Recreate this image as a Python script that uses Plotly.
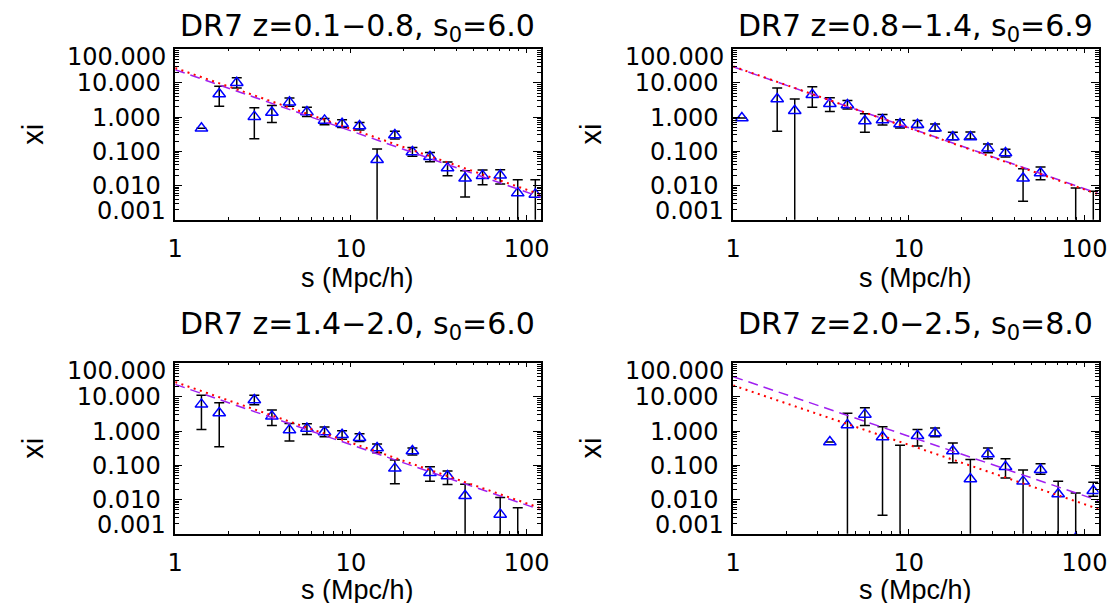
import plotly.graph_objects as go

# ---------------------------------------------------------------------------
# Data (s in Mpc/h, xi dimensionless)
# hi / lo = ends of the error bar; None = no error bar, 0 = bar runs off the bottom
# ---------------------------------------------------------------------------

s_p1 = [1.41, 1.78, 2.24, 2.82, 3.55, 4.47, 5.62, 7.08, 8.91, 11.2,
        14.1, 17.8, 22.4, 28.2, 35.5, 44.7, 56.2, 70.8, 89.1, 112.2]
xi_p1 = [0.469, 4.72, 10.1, 1.03, 1.37, 2.70, 1.41, 0.80, 0.64, 0.55,
         0.0568, 0.299, 0.0953, 0.0695, 0.0324, 0.0162, 0.0194, 0.0198, 0.0060, 0.0055]
hi_p1 = [None, 7.92, 14.2, 1.88, 2.20, 3.61, 1.93, 0.91, 0.84, 0.70,
         0.116, 0.383, 0.130, 0.093, 0.0485, 0.0271, 0.0283, 0.029, 0.0148, 0.0148]
lo_p1 = [None, 2.06, 7.08, 0.233, 0.70, 2.06, 1.05, 0.60, 0.50, 0.42,
         0, 0.229, 0.0711, 0.0497, 0.0194, 0.0046, 0.0105, 0.011, 0, 0]

s_p2 = [1.12, 1.78, 2.24, 2.82, 3.55, 4.47, 5.62, 7.08, 8.91, 11.2,
        14.1, 17.8, 22.4, 28.2, 35.5, 44.7, 56.2, 89.1, 112.2]
xi_p2 = [0.94, 3.38, 1.54, 4.52, 2.47, 2.25, 0.77, 0.82, 0.627, 0.60,
         0.469, 0.261, 0.261, 0.122, 0.089, 0.0162, 0.0232, 0.0004, 0.0004]
hi_p2 = [None, 7.08, 3.38, 7.74, 3.69, 3.08, 1.26, 1.20, 0.84, 0.80,
         0.627, 0.358, 0.366, 0.163, 0.114, 0.031, 0.0347, 0.0085, 0.0068]
lo_p2 = [None, 0.383, 0, 1.93, 1.47, 1.72, 0.358, 0.586, 0.479, 0.50,
         0.383, 0.218, 0.229, 0.091, 0.068, 0.00344, 0.0148, 0, 0]

s_p3 = [1.41, 1.78, 2.82, 3.55, 4.47, 5.62, 7.08, 8.91, 11.2, 14.1,
        17.8, 22.4, 28.2, 35.5, 44.7, 70.8, 89.1]
xi_p3 = [6.05, 3.37, 8.10, 2.70, 1.07, 1.20, 0.94, 0.786, 0.641, 0.32,
         0.0813, 0.261, 0.0608, 0.0486, 0.0129, 0.00367, 0.0004]
hi_p3 = [11.1, 6.76, 11.1, 4.13, 1.68, 1.64, 1.32, 1.03, 0.84, 0.419,
         0.143, 0.32, 0.091, 0.0679, 0.0277, 0.0115, 0.00575]
lo_p3 = [1.12, 0.35, 5.92, 1.47, 0.513, 0.80, 0.686, 0.573, 0.50, 0.233,
         0.029, 0.20, 0.034, 0.0275, 0, 0, 0]

s_p4 = [3.55, 4.47, 5.62, 7.08, 8.91, 11.2, 14.1, 17.8, 22.4, 28.2,
        35.5, 44.7, 56.2, 70.8, 89.1, 112.2]
xi_p4 = [0.479, 1.50, 3.08, 0.671, 0.0004, 0.735, 0.877, 0.261, 0.0396, 0.213,
         0.091, 0.0339, 0.0743, 0.0145, 0.00074, 0.018]
hi_p4 = [None, 3.30, 4.83, 1.35, 0.383, 1.12, 1.23, 0.448, 0.149, 0.32,
         0.156, 0.0728, 0.111, 0.0339, 0.0155, 0.032]
lo_p4 = [None, 0, 1.47, 0.00344, 0, 0.366, 0.686, 0.119, 0, 0.156,
         0.0425, 0, 0.0543, 0, 0, 0.0124]

# power-law fits: values at the two ends of the s range
fit_s = [1.0, 120.0]
red_p1, purple_p1 = [27.2, 0.00548], [24.3, 0.00462]
red_p2, purple_p2 = [30.4, 0.0055], [29.5, 0.0058]
red_p3, purple_p3 = [27.2, 0.0056], [23.2, 0.0050]
red_p4, purple_p4 = [21.7, 0.0053], [39.0, 0.0093]

titles = [
    "DR7 z=0.1\u22120.8, s<sub>0</sub>=6.0",
    "DR7 z=0.8\u22121.4, s<sub>0</sub>=6.9",
    "DR7 z=1.4\u22122.0, s<sub>0</sub>=6.0",
    "DR7 z=2.0\u22122.5, s<sub>0</sub>=8.0",
]
x_tickvals = [1, 10, 100]
x_ticktext = ["1", "10", "100"]
y_tickvals = [0.01, 0.1, 1, 10]
y_ticktext = ["0.010", "0.100", "1.000", "10.000"]
y_top_label, y_bottom_label = "100.000", "0.001"

# ---------------------------------------------------------------------------
# Layout geometry (pixels)
# ---------------------------------------------------------------------------
W, H = 1116, 603
COLS = [(161.7, 532.7), (728.3, 1099.3)]
ROWS = [(40.7, 211.7), (354.7, 525.7)]
TITLE_Y = [20.0, 317.5]
XTITLE_Y = [270.0, 582.0]

TICKFONT = dict(family="DejaVu Sans", size=24, color="black")
TITLEFONT = dict(family="DejaVu Sans", size=30, color="black")
LABELFONT = dict(family="Liberation Sans", size=27, color="black")

panels = [
    (s_p1, xi_p1, hi_p1, lo_p1, red_p1, purple_p1),
    (s_p2, xi_p2, hi_p2, lo_p2, red_p2, purple_p2),
    (s_p3, xi_p3, hi_p3, lo_p3, red_p3, purple_p3),
    (s_p4, xi_p4, hi_p4, lo_p4, red_p4, purple_p4),
]

fig = go.Figure()
annotations = []

for i, (s, xi, hi, lo, red, purple) in enumerate(panels):
    r, c = divmod(i, 2)
    n = "" if i == 0 else str(i + 1)
    xa, ya = "x" + n, "y" + n
    x0, x1 = COLS[c]
    y0, y1 = ROWS[r]

    plus = [None if h is None else h - y for h, y in zip(hi, xi)]
    minus = [None if l is None else y - l for l, y in zip(lo, xi)]

    fig.add_trace(go.Scatter(
        x=s, y=xi, mode="markers", xaxis=xa, yaxis=ya,
        marker=dict(symbol="triangle-up-open", size=11, color="#0000ff",
                    line=dict(width=1.5, color="#0000ff")),
        error_y=dict(type="data", array=plus, arrayminus=minus, symmetric=False,
                     color="black", thickness=1.5, width=5),
    ))
    fig.add_trace(go.Scatter(
        x=fit_s, y=purple, mode="lines", xaxis=xa, yaxis=ya,
        line=dict(color="#a020f0", width=1.5, dash="10px,6px"),
    ))
    fig.add_trace(go.Scatter(
        x=fit_s, y=red, mode="lines", xaxis=xa, yaxis=ya,
        line=dict(color="#ff0000", width=2, dash="2px,4.5px"),
    ))

    axis_common = dict(
        type="log", showgrid=False, zeroline=False,
        showline=True, linecolor="black", linewidth=1.5, mirror="ticks",
        ticks="inside", tickcolor="black", tickwidth=1.2,
        tickfont=TICKFONT, tickmode="array",
    )
    fig.layout["xaxis" + n] = dict(
        axis_common, domain=[x0 / W, x1 / W], anchor=ya,
        range=[0, 2.08], tickvals=x_tickvals, ticktext=x_ticktext,
        ticklen=5, ticklabelstandoff=7,
        minor=dict(ticks="inside", ticklen=2.5, dtick="D1",
                   tickcolor="black", tickwidth=1, showgrid=False),
    )
    fig.layout["yaxis" + n] = dict(
        axis_common, domain=[1 - y1 / H, 1 - y0 / H], anchor=xa,
        range=[-3, 2], tickvals=y_tickvals, ticktext=y_ticktext,
        ticklen=7.5, ticklabelstandoff=8,
        minor=dict(ticks="inside", ticklen=4, dtick="D1",
                   tickcolor="black", tickwidth=1, showgrid=False),
    )

    # end labels of the y axis, pulled inside the box as in the original
    annotations.append(dict(
        text=y_top_label, xref=xa + " domain", yref=ya + " domain",
        x=0, y=1, xanchor="right", yanchor="middle", xshift=-9, yshift=-8.6,
        showarrow=False, font=TICKFONT, borderpad=0, borderwidth=0,
    ))
    annotations.append(dict(
        text=y_bottom_label, xref=xa + " domain", yref=ya + " domain",
        x=0, y=0, xanchor="right", yanchor="middle", xshift=-9, yshift=9,
        showarrow=False, font=TICKFONT, borderpad=0, borderwidth=0,
    ))
    # panel title
    annotations.append(dict(
        text=titles[i], xref=xa + " domain", yref="paper",
        x=0.5, y=1 - TITLE_Y[r] / H, xanchor="center", yanchor="middle",
        showarrow=False, font=TITLEFONT, borderpad=0, borderwidth=0,
    ))
    # axis titles
    annotations.append(dict(
        text="s (Mpc/h)", xref=xa + " domain", yref="paper",
        x=0.5, y=1 - XTITLE_Y[r] / H, xanchor="center", yanchor="middle",
        showarrow=False, font=LABELFONT, borderpad=0, borderwidth=0,
    ))
    annotations.append(dict(
        text="xi", xref="paper", yref=ya + " domain",
        x=(x0 - 144) / W, y=0.5, xanchor="center", yanchor="middle",
        textangle=-90, showarrow=False, font=dict(LABELFONT, size=29),
        borderpad=0, borderwidth=0,
    ))

fig.update_layout(
    width=W, height=H,
    margin=dict(l=0, r=0, t=0, b=0),
    paper_bgcolor="white", plot_bgcolor="white",
    showlegend=False,
    annotations=annotations,
)

fig.write_html("out.html")
